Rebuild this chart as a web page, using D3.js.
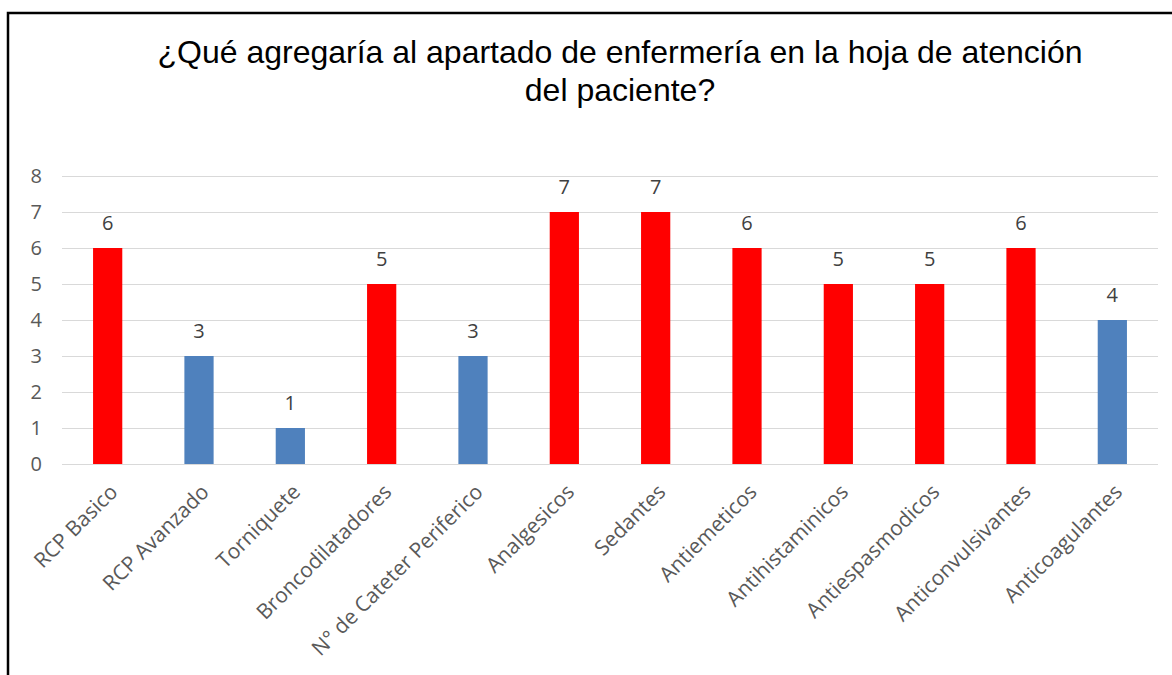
<!DOCTYPE html>
<html>
<head>
<meta charset="utf-8">
<script src="https://cdn.jsdelivr.net/npm/d3@7"></script>
<style>
  body { margin: 0; background: #fff; }
  svg { display: block; }
</style>
</head>
<body>
<script>
'use strict';

// chart data
let categories = ["RCP Basico", "RCP Avanzado", "Torniquete", "Broncodilatadores",
  "N° de Cateter Periferico", "Analgesicos", "Sedantes", "Antiemeticos",
  "Antihistaminicos", "Antiespasmodicos", "Anticonvulsivantes", "Anticoagulantes"];
let values = [6, 3, 1, 5, 3, 7, 7, 6, 5, 5, 6, 4];
let yTicks = [0, 1, 2, 3, 4, 5, 6, 7, 8];
let titleLines = ["¿Qué agregaría al apartado de enfermería en la hoja de atención", "del paciente?"];

// chart frame
let W = 1172, H = 675;
let plot = { left: 62, right: 1158, top: 176, bottom: 464 };

let svg = d3.select("body").append("svg")
  .attr("width", W)
  .attr("height", H);

svg.append("rect").attr("width", W).attr("height", H).attr("fill", "#fff");

// outer border (runs off the right and bottom edge)
svg.append("rect")
  .attr("x", 8).attr("y", 13)
  .attr("width", W + 20).attr("height", H + 20)
  .attr("fill", "none")
  .attr("stroke", "#000")
  .attr("stroke-width", 2.5);

// title
svg.append("g").selectAll("text")
  .data(titleLines)
  .enter()
  .append("text")
  .attr("x", 620)
  .attr("y", (d, i) => 63 + i * 38)
  .attr("text-anchor", "middle")
  .style("font-family", "'Liberation Sans', Arial, sans-serif")
  .style("font-size", "32px")
  .attr("fill", "#000")
  .text(d => d);

// scales
let x = d3.scaleBand()
  .domain(categories)
  .range([plot.left, plot.right])
  .paddingInner(0.68)
  .paddingOuter(0.34);

let y = d3.scaleLinear()
  .domain([0, 8])
  .range([plot.bottom, plot.top]);

let labelFont = "'Open Sans', 'Noto Sans', sans-serif";

// y gridlines
let yGrid = svg.append("g")
  .attr("transform", "translate(" + plot.left + ",0)")
  .call(d3.axisLeft(y)
    .tickValues(yTicks)
    .tickSize(-(plot.right - plot.left))
    .tickFormat(""));
yGrid.select(".domain").remove();
yGrid.selectAll("line").attr("stroke", "#d9d9d9").attr("stroke-width", 1);

// y axis labels
let yAxis = svg.append("g")
  .attr("transform", "translate(" + (plot.left - 20) + ",0)")
  .call(d3.axisLeft(y).tickValues(yTicks).tickSize(0).tickPadding(0));
yAxis.select(".domain").remove();
yAxis.selectAll("text")
  .attr("fill", "#595959")
  .style("font-family", labelFont)
  .style("font-size", "20px");

// bars
svg.append("g").selectAll("rect")
  .data(values)
  .enter()
  .append("rect")
  .attr("x", (d, i) => x(categories[i]))
  .attr("y", d => y(d))
  .attr("width", x.bandwidth())
  .attr("height", d => y(0) - y(d))
  .attr("fill", d => d >= 5 ? "#ff0000" : "#4f81bd");

// value labels
svg.append("g").selectAll("text")
  .data(values)
  .enter()
  .append("text")
  .attr("x", (d, i) => x(categories[i]) + x.bandwidth() / 2)
  .attr("y", d => y(d) - 18)
  .attr("text-anchor", "middle")
  .attr("fill", "#404040")
  .style("font-family", labelFont)
  .style("font-size", "20px")
  .text(d => d);

// category labels
let xAxis = svg.append("g")
  .attr("transform", "translate(0," + plot.bottom + ")")
  .call(d3.axisBottom(x).tickSize(0).tickPadding(0));
xAxis.select(".domain").remove();
xAxis.selectAll("text")
  .attr("text-anchor", "end")
  .attr("fill", "#595959")
  .style("font-family", labelFont)
  .style("font-size", "21px")
  .attr("dy", "0.35em")
  .attr("transform", "translate(6,24) rotate(-45)");
</script>
</body>
</html>
